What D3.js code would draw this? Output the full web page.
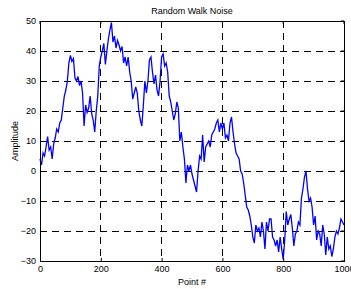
<!DOCTYPE html>
<html><head><meta charset="utf-8">
<script src="https://cdn.jsdelivr.net/npm/d3@7"></script>
<style>body{margin:0;background:#fff}svg{display:block}text{font-family:"Liberation Sans",Arial,sans-serif;fill:#000}</style>
</head><body><svg id="c" width="351" height="289"></svg>
<script>
const title = "Random Walk Noise";
const xLabel = "Point #";
const yLabel = "Amplitude";
const xTicks = [0, 200, 400, 600, 800, 1000];
const yTicks = [-30, -20, -10, 0, 10, 20, 30, 40, 50];
const sampleStep = 5;
const amplitude = [
 4,2,6,5,8,11.5,7,8,4,9,11,14,13,16,17,21,25,27,30,36,
 38.5,36.5,37.5,31,30,31.5,28.5,30,26,15,22,19.5,21,25,19,17,13,20,25,35,
 38,40,42.5,35.5,40,44,47,49.5,43,45,41,43.5,42,40,41.5,36,38,35,38,33,
 30,24,26,28,26,20,17,15,22,30,26,30,37,38,33,29,32,27,25,30,
 38,39,35,36,33,25,23,20,17,19,23,21,10,13,8,4,-4,2,0,2,
 -1,-3,-5,-7,0,5,4,12,3,8,9,10,8,12,13,14,16,17,13,16,
 14,16,11,12,10,16,18,13,9,6,5,4,0,-1,-4,-8,-12,-13,-15,-18,
 -22,-24,-18,-20,-19,-22,-17,-20,-26,-17,-20,-16,-16,-22,-23,-25,-23,-27,-22,-26,
 -29.5,-23,-13.5,-18,-16,-14.5,-19,-25,-21,-20,-17,-18,-9,-6,-2,0,-6,-10,-9,-12,
 -18,-15,-23,-20,-21,-25,-18,-21,-28,-22,-26,-25,-28.5,-26,-22,-20,-21,-19,-16,-17,
 -18
];

const svg = d3.select("#c");
const L = 40, R = 344, T = 21, B = 261;
const x = d3.scaleLinear().domain([0, 1000]).range([L, R]);
const y = d3.scaleLinear().domain([-30, 50]).range([B, T]);

// grid
const g = svg.append("g");
g.selectAll(".gx").data(xTicks.slice(1, -1)).enter().append("line")
  .attr("x1", d => x(d)).attr("x2", d => x(d)).attr("y1", T).attr("y2", B)
  .attr("stroke", "#000").attr("stroke-width", 1).attr("stroke-dasharray", "7,5").attr("shape-rendering","crispEdges");
g.selectAll(".gy").data(yTicks.slice(1, -1)).enter().append("line")
  .attr("y1", d => y(d)).attr("y2", d => y(d)).attr("x1", L).attr("x2", R)
  .attr("stroke", "#000").attr("stroke-width", 1).attr("stroke-dasharray", "7,5").attr("shape-rendering","crispEdges");

// line
const pts = amplitude.map((v, i) => [i * sampleStep, v]);
svg.append("path").datum(pts)
  .attr("fill", "none").attr("stroke", "#0000ff").attr("stroke-width", 1.3)
  .attr("d", d3.line().x(d => x(d[0])).y(d => y(d[1])));

// axes
const ax = svg.append("g").attr("transform", `translate(0,${B})`)
  .call(d3.axisBottom(x).tickValues(xTicks).tickSize(-3).tickPadding(5).tickFormat(d3.format("d")));
const ay = svg.append("g").attr("transform", `translate(${L},0)`)
  .call(d3.axisLeft(y).tickValues(yTicks).tickSize(-3).tickPadding(4).tickFormat(d3.format("d")));
[ax, ay].forEach(a => {
  a.select(".domain").remove();
  a.selectAll("line").attr("stroke", "#000");
  a.selectAll("text").attr("font-size", 9).attr("font-family", '"Liberation Sans",Arial,sans-serif').attr("fill", "#000");
});
ax.selectAll("text").attr("dy", "0.71em");
// box
svg.append("rect").attr("x", L).attr("y", T).attr("width", R - L).attr("height", B - T)
  .attr("fill", "none").attr("stroke", "#000").attr("stroke-width", 1).attr("shape-rendering","crispEdges");
// top/right ticks
svg.selectAll(".tt").data(xTicks).enter().append("line")
  .attr("x1", d => x(d)).attr("x2", d => x(d)).attr("y1", T).attr("y2", T + 3).attr("stroke", "#000");
svg.selectAll(".rt").data(yTicks).enter().append("line")
  .attr("y1", d => y(d)).attr("y2", d => y(d)).attr("x1", R).attr("x2", R - 3).attr("stroke", "#000");

svg.append("text").attr("x", (L + R) / 2).attr("y", 14).attr("text-anchor", "middle").attr("font-size", 9).text(title);
svg.append("text").attr("x", (L + R) / 2).attr("y", 285).attr("text-anchor", "middle").attr("font-size", 9).text(xLabel);
svg.append("text").attr("transform", `translate(18,${(T + B) / 2}) rotate(-90)`).attr("text-anchor", "middle").attr("font-size", 9).text(yLabel);
</script></body></html>
